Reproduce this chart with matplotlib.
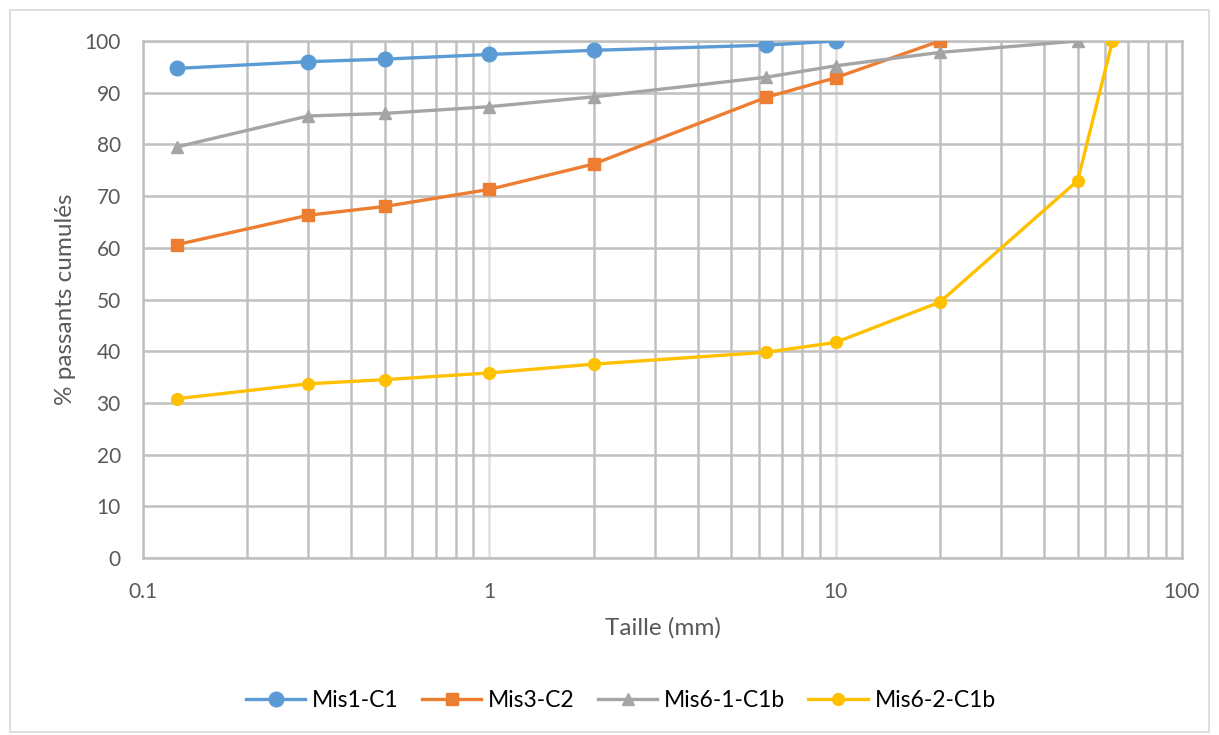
import matplotlib.pyplot as plt
from matplotlib.ticker import FixedLocator, LogLocator, NullFormatter
from matplotlib.patches import Rectangle

plt.rcParams['font.family'] = ['Lato', 'DejaVu Sans']

# tailles des tamis (mm)
taille = [0.125, 0.3, 0.5, 1, 2, 6.3, 10, 20, 50, 63]

mis1_c1 = [94.7, 96.0, 96.5, 97.4, 98.2, 99.2, 100]
mis3_c2 = [60.6, 66.3, 68.0, 71.3, 76.2, 89.1, 92.9, 100]
mis6_1_c1b = [79.5, 85.5, 86.0, 87.3, 89.2, 93.0, 95.2, 97.8, 100]
mis6_2_c1b = [30.8, 33.7, 34.5, 35.8, 37.5, 39.8, 41.7, 49.5, 73.0, 100]

series = [
    ("Mis1-C1", mis1_c1, "#5B9BD5", "o", 10.5),
    ("Mis3-C2", mis3_c2, "#ED7D31", "s", 9),
    ("Mis6-1-C1b", mis6_1_c1b, "#A5A5A5", "^", 9),
    ("Mis6-2-C1b", mis6_2_c1b, "#FFC000", "o", 8.5),
]

fig = plt.figure(figsize=(12.19, 7.35), dpi=100)
ax = fig.add_axes([0.1173, 0.2408, 0.8523, 0.7034])

# cadre autour du graphique
fig.patches.append(Rectangle((0.008, 0.004), 0.984, 0.982, transform=fig.transFigure,
                             fill=False, edgecolor="#d9d9d9", linewidth=1.2))

for nom, vals, coul, mk, ms in series:
    ax.plot(taille[:len(vals)], vals, color=coul, marker=mk, markersize=ms,
            linewidth=2.4, label=nom, zorder=3)

ax.set_xscale('log')
ax.set_xlim(0.1, 100)
ax.set_ylim(0, 100)
ax.set_yticks(range(0, 101, 10))
ax.xaxis.set_major_locator(FixedLocator([0.1, 1, 10, 100]))
ax.xaxis.set_minor_locator(LogLocator(base=10, subs=range(2, 10)))
ax.xaxis.set_minor_formatter(NullFormatter())
ax.set_xticklabels(["0.1", "1", "10", "100"])

ax.grid(True, which='major', axis='y', color="#c0c0c0", linewidth=1.8)
ax.grid(True, which='major', axis='x', color="#dedede", linewidth=1.8)
ax.grid(True, which='minor', axis='x', color="#c0c0c0", linewidth=1.8)
ax.set_axisbelow(True)
for s in ax.spines.values():
    s.set_color("#c0c0c0")
    s.set_linewidth(1.8)
ax.tick_params(which='both', length=0, labelsize=15, labelcolor="#595959")
ax.tick_params(axis='x', pad=17)
ax.tick_params(axis='y', pad=16)

ax.set_xlabel("Taille (mm)", fontsize=17.5, color="#595959", labelpad=11)
ax.set_ylabel("% passants cumulés", fontsize=17.5, color="#595959", labelpad=6)

ax.legend(loc='upper center', bbox_to_anchor=(0.46, -0.215), ncol=4, frameon=False,
          fontsize=16.5, handlelength=2.6, columnspacing=1.0, handletextpad=0.3)

fig.savefig("out.png", dpi=100)
